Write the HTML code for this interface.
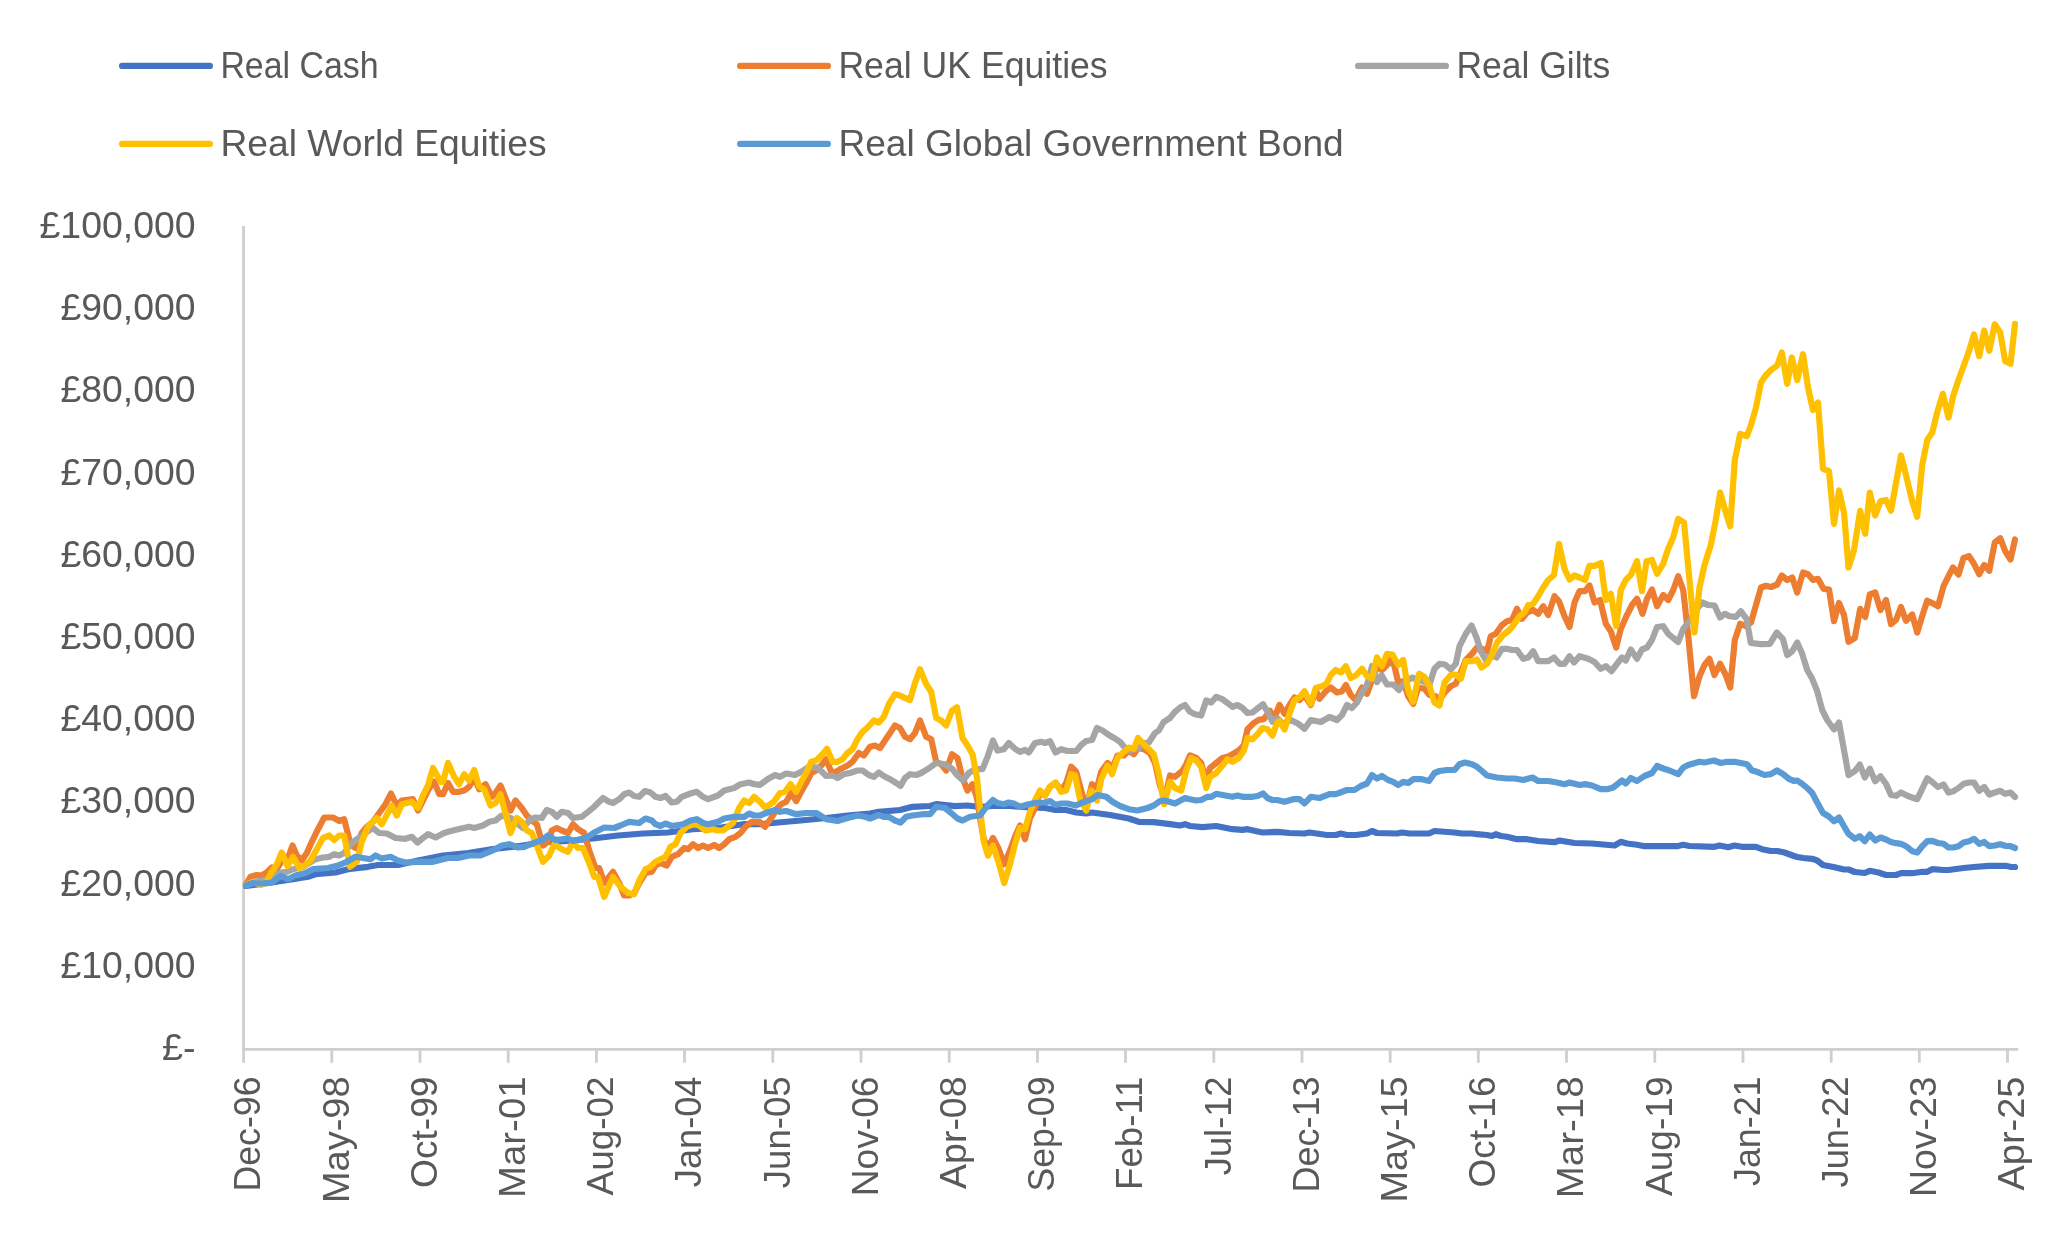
<!DOCTYPE html>
<html><head><meta charset="utf-8"><title>Chart</title>
<style>
html,body{margin:0;padding:0;background:#fff;}
body{width:2068px;height:1234px;overflow:hidden;}
svg{display:block;}
text{filter:grayscale(1);}
text{font-family:"Liberation Sans",sans-serif;fill:#595959;}
</style></head><body>
<svg width="2068" height="1234" viewBox="0 0 2068 1234">
<rect width="2068" height="1234" fill="#ffffff"/>
<line x1="122.1" y1="65.9" x2="209.9" y2="65.9" stroke="#4472C4" stroke-width="6.2" stroke-linecap="round"/>
<text x="220.4" y="77.6" font-size="36" textLength="158.3" lengthAdjust="spacingAndGlyphs">Real Cash</text>
<line x1="740.1" y1="65.9" x2="827.9" y2="65.9" stroke="#ED7D31" stroke-width="6.2" stroke-linecap="round"/>
<text x="838.4" y="77.6" font-size="36" textLength="269.3" lengthAdjust="spacingAndGlyphs">Real UK Equities</text>
<line x1="1358.1" y1="65.9" x2="1445.9" y2="65.9" stroke="#A5A5A5" stroke-width="6.2" stroke-linecap="round"/>
<text x="1456.4" y="77.6" font-size="36" textLength="153.8" lengthAdjust="spacingAndGlyphs">Real Gilts</text>
<line x1="122.1" y1="143.9" x2="209.9" y2="143.9" stroke="#FFC000" stroke-width="6.2" stroke-linecap="round"/>
<text x="220.4" y="155.6" font-size="36" textLength="326.3" lengthAdjust="spacingAndGlyphs">Real World Equities</text>
<line x1="740.1" y1="143.9" x2="827.9" y2="143.9" stroke="#5B9BD5" stroke-width="6.2" stroke-linecap="round"/>
<text x="838.4" y="155.6" font-size="36" textLength="505.3" lengthAdjust="spacingAndGlyphs">Real Global Government Bond</text>
<line x1="243.55" y1="226.0" x2="243.55" y2="1062.7" stroke="#D0CECE" stroke-width="2.8"/>
<line x1="242.15" y1="1049.45" x2="2018.2" y2="1049.45" stroke="#D0CECE" stroke-width="2.8"/>
<text transform="translate(260.4,1076.5) rotate(-90)" text-anchor="end" font-size="36" textLength="115.0" lengthAdjust="spacingAndGlyphs">Dec-96</text>
<line x1="331.8" y1="1049.5" x2="331.8" y2="1062.7" stroke="#D0CECE" stroke-width="2.8"/>
<text transform="translate(348.6,1076.5) rotate(-90)" text-anchor="end" font-size="36" textLength="126.5" lengthAdjust="spacingAndGlyphs">May-98</text>
<line x1="420.0" y1="1049.5" x2="420.0" y2="1062.7" stroke="#D0CECE" stroke-width="2.8"/>
<text transform="translate(436.8,1076.5) rotate(-90)" text-anchor="end" font-size="36" textLength="111.5" lengthAdjust="spacingAndGlyphs">Oct-99</text>
<line x1="508.2" y1="1049.5" x2="508.2" y2="1062.7" stroke="#D0CECE" stroke-width="2.8"/>
<text transform="translate(525.0,1076.5) rotate(-90)" text-anchor="end" font-size="36" textLength="121.4" lengthAdjust="spacingAndGlyphs">Mar-01</text>
<line x1="596.4" y1="1049.5" x2="596.4" y2="1062.7" stroke="#D0CECE" stroke-width="2.8"/>
<text transform="translate(613.1,1076.5) rotate(-90)" text-anchor="end" font-size="36" textLength="119.0" lengthAdjust="spacingAndGlyphs">Aug-02</text>
<line x1="684.5" y1="1049.5" x2="684.5" y2="1062.7" stroke="#D0CECE" stroke-width="2.8"/>
<text transform="translate(701.3,1076.5) rotate(-90)" text-anchor="end" font-size="36" textLength="110.7" lengthAdjust="spacingAndGlyphs">Jan-04</text>
<line x1="772.8" y1="1049.5" x2="772.8" y2="1062.7" stroke="#D0CECE" stroke-width="2.8"/>
<text transform="translate(789.5,1076.5) rotate(-90)" text-anchor="end" font-size="36" textLength="111.7" lengthAdjust="spacingAndGlyphs">Jun-05</text>
<line x1="861.0" y1="1049.5" x2="861.0" y2="1062.7" stroke="#D0CECE" stroke-width="2.8"/>
<text transform="translate(877.8,1076.5) rotate(-90)" text-anchor="end" font-size="36" textLength="119.8" lengthAdjust="spacingAndGlyphs">Nov-06</text>
<line x1="949.2" y1="1049.5" x2="949.2" y2="1062.7" stroke="#D0CECE" stroke-width="2.8"/>
<text transform="translate(966.0,1076.5) rotate(-90)" text-anchor="end" font-size="36" textLength="112.4" lengthAdjust="spacingAndGlyphs">Apr-08</text>
<line x1="1037.4" y1="1049.5" x2="1037.4" y2="1062.7" stroke="#D0CECE" stroke-width="2.8"/>
<text transform="translate(1054.2,1076.5) rotate(-90)" text-anchor="end" font-size="36" textLength="115.0" lengthAdjust="spacingAndGlyphs">Sep-09</text>
<line x1="1125.5" y1="1049.5" x2="1125.5" y2="1062.7" stroke="#D0CECE" stroke-width="2.8"/>
<text transform="translate(1142.3,1076.5) rotate(-90)" text-anchor="end" font-size="36" textLength="113.4" lengthAdjust="spacingAndGlyphs">Feb-11</text>
<line x1="1213.8" y1="1049.5" x2="1213.8" y2="1062.7" stroke="#D0CECE" stroke-width="2.8"/>
<text transform="translate(1230.5,1076.5) rotate(-90)" text-anchor="end" font-size="36" textLength="98.7" lengthAdjust="spacingAndGlyphs">Jul-12</text>
<line x1="1302.0" y1="1049.5" x2="1302.0" y2="1062.7" stroke="#D0CECE" stroke-width="2.8"/>
<text transform="translate(1318.8,1076.5) rotate(-90)" text-anchor="end" font-size="36" textLength="116.0" lengthAdjust="spacingAndGlyphs">Dec-13</text>
<line x1="1390.2" y1="1049.5" x2="1390.2" y2="1062.7" stroke="#D0CECE" stroke-width="2.8"/>
<text transform="translate(1407.0,1076.5) rotate(-90)" text-anchor="end" font-size="36" textLength="126.0" lengthAdjust="spacingAndGlyphs">May-15</text>
<line x1="1478.3" y1="1049.5" x2="1478.3" y2="1062.7" stroke="#D0CECE" stroke-width="2.8"/>
<text transform="translate(1495.1,1076.5) rotate(-90)" text-anchor="end" font-size="36" textLength="111.0" lengthAdjust="spacingAndGlyphs">Oct-16</text>
<line x1="1566.5" y1="1049.5" x2="1566.5" y2="1062.7" stroke="#D0CECE" stroke-width="2.8"/>
<text transform="translate(1583.3,1076.5) rotate(-90)" text-anchor="end" font-size="36" textLength="121.7" lengthAdjust="spacingAndGlyphs">Mar-18</text>
<line x1="1654.8" y1="1049.5" x2="1654.8" y2="1062.7" stroke="#D0CECE" stroke-width="2.8"/>
<text transform="translate(1671.5,1076.5) rotate(-90)" text-anchor="end" font-size="36" textLength="119.5" lengthAdjust="spacingAndGlyphs">Aug-19</text>
<line x1="1743.0" y1="1049.5" x2="1743.0" y2="1062.7" stroke="#D0CECE" stroke-width="2.8"/>
<text transform="translate(1759.8,1076.5) rotate(-90)" text-anchor="end" font-size="36" textLength="109.5" lengthAdjust="spacingAndGlyphs">Jan-21</text>
<line x1="1831.2" y1="1049.5" x2="1831.2" y2="1062.7" stroke="#D0CECE" stroke-width="2.8"/>
<text transform="translate(1848.0,1076.5) rotate(-90)" text-anchor="end" font-size="36" textLength="111.0" lengthAdjust="spacingAndGlyphs">Jun-22</text>
<line x1="1919.3" y1="1049.5" x2="1919.3" y2="1062.7" stroke="#D0CECE" stroke-width="2.8"/>
<text transform="translate(1936.1,1076.5) rotate(-90)" text-anchor="end" font-size="36" textLength="120.4" lengthAdjust="spacingAndGlyphs">Nov-23</text>
<line x1="2007.5" y1="1049.5" x2="2007.5" y2="1062.7" stroke="#D0CECE" stroke-width="2.8"/>
<text transform="translate(2024.3,1076.5) rotate(-90)" text-anchor="end" font-size="36" textLength="114.0" lengthAdjust="spacingAndGlyphs">Apr-25</text>
<text x="195.6" y="1060.0" text-anchor="end" font-size="37" textLength="33.6" lengthAdjust="spacingAndGlyphs">£-</text>
<text x="195.6" y="977.8" text-anchor="end" font-size="37" textLength="135.1" lengthAdjust="spacingAndGlyphs">£10,000</text>
<text x="195.6" y="895.6" text-anchor="end" font-size="37" textLength="135.1" lengthAdjust="spacingAndGlyphs">£20,000</text>
<text x="195.6" y="813.3" text-anchor="end" font-size="37" textLength="135.1" lengthAdjust="spacingAndGlyphs">£30,000</text>
<text x="195.6" y="731.1" text-anchor="end" font-size="37" textLength="135.1" lengthAdjust="spacingAndGlyphs">£40,000</text>
<text x="195.6" y="648.9" text-anchor="end" font-size="37" textLength="135.1" lengthAdjust="spacingAndGlyphs">£50,000</text>
<text x="195.6" y="566.7" text-anchor="end" font-size="37" textLength="135.1" lengthAdjust="spacingAndGlyphs">£60,000</text>
<text x="195.6" y="484.5" text-anchor="end" font-size="37" textLength="135.1" lengthAdjust="spacingAndGlyphs">£70,000</text>
<text x="195.6" y="402.2" text-anchor="end" font-size="37" textLength="135.1" lengthAdjust="spacingAndGlyphs">£80,000</text>
<text x="195.6" y="320.0" text-anchor="end" font-size="37" textLength="135.1" lengthAdjust="spacingAndGlyphs">£90,000</text>
<text x="195.6" y="237.8" text-anchor="end" font-size="37" textLength="156.1" lengthAdjust="spacingAndGlyphs">£100,000</text>
<polyline fill="none" stroke="#4472C4" stroke-width="6.2" stroke-linejoin="round" stroke-linecap="round" points="246.0,886.0 268.0,883.0 293.0,879.2 308.0,876.8 315.5,874.2 335.5,872.5 348.0,869.2 368.0,866.8 378.0,865.0 398.0,865.0 418.0,860.5 443.0,855.5 468.0,853.0 493.0,849.0 518.0,846.2 543.0,842.2 568.0,841.0 593.0,838.5 618.0,835.5 643.0,833.5 668.0,832.5 693.0,829.2 718.0,828.0 743.0,824.2 760.0,824.2 772.5,823.0 806.2,820.0 826.2,818.0 847.5,815.5 870.0,813.5 878.8,811.8 900.0,810.0 912.5,806.8 930.0,806.0 936.2,804.2 955.0,806.2 967.5,805.5 980.0,806.8 993.0,806.0 1010.0,806.0 1030.0,807.5 1045.0,808.0 1055.5,810.0 1066.2,810.0 1076.2,812.5 1086.2,813.5 1092.0,812.5 1110.0,815.0 1128.8,818.5 1138.8,821.8 1153.8,822.2 1170.0,824.2 1180.0,825.5 1185.0,824.2 1190.0,826.0 1202.5,827.2 1216.2,826.0 1232.5,829.2 1242.5,829.8 1247.5,829.2 1262.5,832.5 1277.0,831.8 1289.5,833.0 1304.5,833.5 1309.5,832.5 1327.0,835.0 1335.8,835.0 1340.8,833.5 1347.0,835.0 1355.8,835.0 1367.0,833.5 1372.0,831.0 1377.0,833.0 1397.0,833.5 1402.0,832.5 1409.5,833.5 1429.0,833.5 1434.5,831.0 1454.5,832.5 1462.0,833.5 1472.0,833.5 1477.0,834.2 1487.0,835.0 1492.0,836.0 1495.8,834.2 1500.8,836.0 1507.0,836.8 1517.0,839.2 1527.0,839.2 1538.2,841.0 1554.5,842.2 1559.5,840.5 1574.5,843.0 1592.0,843.5 1614.5,845.5 1620.8,841.8 1627.0,843.5 1637.0,844.8 1644.5,846.2 1677.0,846.2 1683.2,844.8 1689.5,846.0 1714.5,846.8 1719.5,845.5 1728.2,847.2 1734.5,845.5 1742.0,846.8 1755.8,846.8 1762.0,849.2 1770.8,851.0 1777.0,851.0 1784.5,852.5 1794.0,856.0 1797.2,857.0 1803.5,858.0 1812.2,858.8 1817.2,860.5 1823.0,865.0 1833.5,867.0 1844.0,869.5 1848.5,869.5 1854.8,872.0 1864.8,873.0 1869.8,870.8 1878.5,872.5 1886.0,875.0 1896.0,875.0 1901.0,873.2 1912.2,873.2 1922.2,871.8 1927.2,871.8 1932.2,869.2 1943.5,870.0 1948.5,870.0 1963.5,868.0 1974.0,867.0 1989.2,865.8 2005.2,865.8 2010.5,866.8 2015.0,867.0"/>
<polyline fill="none" stroke="#ED7D31" stroke-width="6.2" stroke-linejoin="round" stroke-linecap="round" points="246.0,884.2 250.5,876.8 256.8,875.0 261.8,875.5 266.8,872.5 271.8,867.5 276.8,869.2 283.0,859.2 288.0,858.0 292.5,845.5 296.8,855.5 301.8,860.5 306.8,853.0 311.8,841.8 318.0,829.2 324.2,817.5 333.0,817.5 339.2,821.0 344.2,819.2 350.5,844.2 355.5,848.0 361.8,833.0 366.8,826.8 373.0,821.8 379.2,813.0 385.5,804.2 391.0,793.5 396.8,805.5 401.8,800.5 413.0,799.2 418.0,810.5 423.0,800.5 429.2,788.0 434.2,781.8 439.2,794.2 443.0,794.2 448.0,783.0 453.0,791.8 459.2,791.8 464.2,790.5 469.2,786.8 474.2,778.0 479.2,789.2 485.5,784.2 491.8,796.8 495.5,793.0 500.5,785.5 510.5,810.5 515.5,800.5 521.8,808.0 526.8,815.5 531.8,820.5 536.8,824.2 543.0,845.5 548.0,841.8 551.8,830.5 556.8,828.0 561.8,830.5 568.0,833.0 573.0,824.2 578.0,829.2 584.2,833.0 589.2,850.5 595.5,868.0 599.2,868.0 604.2,883.0 613.0,871.8 619.2,883.0 624.2,895.5 629.2,895.5 634.2,893.0 639.2,883.0 645.5,873.0 651.8,871.8 655.5,865.5 660.5,863.0 666.8,865.5 671.8,856.8 678.0,854.2 684.2,848.0 688.0,849.2 693.0,844.2 698.0,848.0 703.0,845.5 708.0,848.0 714.2,845.0 719.2,848.0 724.2,844.2 729.2,839.2 735.5,836.8 740.5,833.0 745.5,826.8 751.8,821.8 760.0,822.2 765.0,826.8 771.2,818.0 777.5,808.0 781.2,804.2 786.2,801.8 791.2,793.0 796.2,801.0 801.2,791.8 806.2,783.0 811.2,773.0 816.2,770.5 821.2,765.5 826.2,759.2 831.2,771.8 836.2,771.8 840.0,769.2 847.5,765.5 852.5,761.8 858.8,753.0 863.8,755.5 870.0,746.8 875.0,745.5 880.0,748.0 885.0,740.5 890.0,733.0 895.0,725.5 900.0,728.0 905.0,736.8 910.0,739.2 915.0,733.0 920.0,720.5 926.2,736.8 931.2,739.2 936.2,761.8 941.2,764.2 946.2,770.5 952.0,754.2 957.5,758.0 962.5,778.0 967.5,790.5 972.5,784.2 977.0,798.0 980.0,818.0 983.8,839.2 988.0,848.0 993.0,838.0 998.8,849.2 1004.2,864.2 1010.0,850.5 1015.0,836.8 1020.0,825.5 1025.0,839.2 1030.0,818.0 1035.0,808.0 1040.0,791.8 1045.0,795.5 1050.0,786.8 1055.5,783.0 1061.2,790.5 1066.2,783.0 1071.2,766.8 1076.2,771.8 1081.2,790.5 1086.2,808.0 1092.0,784.2 1097.0,788.0 1101.2,771.8 1107.5,763.0 1112.5,768.0 1117.5,755.5 1123.8,755.5 1128.8,750.5 1133.8,754.2 1138.0,748.0 1143.8,749.2 1150.0,753.0 1155.0,763.0 1160.0,785.5 1165.0,798.0 1170.0,775.5 1175.0,776.8 1182.5,770.5 1186.2,764.2 1190.0,755.5 1196.2,758.0 1201.2,763.0 1206.2,780.5 1210.0,768.0 1216.2,763.0 1222.5,758.0 1227.5,756.8 1232.5,754.2 1238.8,750.5 1243.8,745.5 1247.5,729.2 1253.8,723.0 1258.8,719.8 1263.8,719.2 1270.0,710.8 1273.8,719.5 1279.5,705.0 1284.5,713.8 1289.5,705.0 1294.5,697.5 1299.5,700.0 1304.5,695.0 1310.8,705.0 1315.8,690.5 1319.5,698.8 1325.8,691.2 1330.8,687.5 1337.0,692.5 1342.0,691.2 1345.8,685.0 1350.8,695.0 1355.8,700.0 1362.0,687.5 1367.0,693.8 1372.0,680.0 1377.0,666.2 1382.0,670.0 1387.0,665.0 1390.8,660.0 1394.5,666.2 1398.2,682.5 1403.2,681.2 1408.2,696.2 1413.2,703.8 1418.2,687.5 1424.5,688.8 1429.5,695.0 1435.8,696.2 1439.5,700.0 1444.5,692.5 1450.8,686.2 1455.8,683.8 1460.8,672.5 1465.8,660.0 1472.0,653.8 1477.0,647.5 1482.0,648.8 1487.0,651.2 1490.8,636.2 1495.8,633.8 1502.0,625.0 1507.0,621.2 1512.0,620.0 1517.0,608.8 1522.0,618.8 1527.0,612.5 1533.2,610.0 1538.2,613.8 1543.2,606.2 1548.2,615.0 1554.5,596.2 1559.0,601.2 1564.5,616.2 1569.5,627.0 1574.5,602.5 1579.5,591.2 1585.0,591.2 1589.5,585.5 1594.5,602.5 1600.0,600.0 1605.8,623.8 1610.8,631.2 1616.2,647.5 1620.8,628.8 1625.8,617.5 1632.0,605.0 1637.0,598.8 1642.5,613.8 1647.0,598.8 1652.0,589.5 1657.0,606.2 1663.2,595.0 1668.2,600.0 1673.2,590.0 1678.2,576.2 1683.2,590.0 1688.2,635.0 1694.0,696.2 1699.5,676.2 1704.5,665.0 1709.5,658.8 1714.5,675.0 1720.0,663.8 1725.8,675.0 1730.2,687.5 1734.8,640.0 1740.2,623.8 1746.0,626.2 1751.0,622.5 1756.0,605.0 1761.0,587.5 1766.0,585.8 1771.0,587.0 1777.2,584.5 1781.8,575.5 1787.2,580.0 1792.2,577.5 1797.2,592.5 1803.0,572.5 1808.0,574.2 1813.0,580.0 1818.0,578.8 1823.5,588.8 1829.0,589.5 1834.0,621.2 1839.0,603.0 1844.0,615.0 1848.5,641.8 1854.8,638.0 1860.2,608.8 1865.2,617.0 1869.8,594.5 1875.2,592.5 1880.5,610.0 1886.0,600.0 1891.0,624.2 1896.0,620.0 1901.0,607.0 1906.0,620.8 1912.2,614.5 1917.2,632.5 1922.2,616.2 1927.2,600.8 1932.2,603.0 1938.0,606.2 1943.5,586.2 1948.5,576.2 1953.0,567.5 1958.5,574.5 1963.5,558.0 1969.0,556.2 1974.0,563.8 1979.2,574.2 1984.2,565.0 1989.2,570.8 1994.8,542.5 2000.2,538.2 2005.2,551.2 2010.5,559.5 2015.0,539.5"/>
<polyline fill="none" stroke="#A5A5A5" stroke-width="6.2" stroke-linejoin="round" stroke-linecap="round" points="246.0,885.0 255.5,881.8 268.0,879.2 273.0,875.5 278.0,873.0 286.8,871.8 293.0,869.2 303.0,866.8 315.5,859.2 323.0,857.5 329.2,856.8 334.2,854.2 339.2,855.5 344.2,853.0 350.5,844.2 356.8,839.2 365.5,833.0 373.0,828.0 379.2,833.0 386.8,833.5 395.5,838.0 405.5,838.8 411.8,836.8 417.5,842.5 423.0,838.0 428.0,834.2 435.5,837.5 443.0,833.5 448.0,831.8 458.0,829.2 469.2,826.8 474.2,828.0 483.0,825.5 489.2,821.8 495.5,820.5 501.8,815.5 510.5,818.0 516.8,823.0 523.0,828.0 530.5,819.2 535.5,817.5 541.8,818.0 546.8,810.0 551.8,811.8 556.8,816.8 561.8,811.8 568.0,813.0 573.0,818.0 581.8,816.8 588.0,811.8 594.2,806.8 603.0,798.0 609.2,801.8 613.0,803.0 619.2,799.2 624.2,794.2 629.2,792.5 634.2,796.0 639.2,796.8 645.0,791.0 650.5,792.5 655.5,796.8 660.5,798.0 665.5,796.0 671.8,802.5 676.8,801.8 681.8,796.8 690.5,793.5 696.8,791.8 703.0,796.8 708.0,799.2 718.0,795.5 724.2,790.5 734.2,788.0 740.5,784.2 749.2,782.5 754.2,784.2 760.0,784.8 767.5,779.2 775.0,775.0 780.0,776.8 786.2,773.5 795.0,775.0 801.2,771.8 808.8,766.8 817.5,767.5 826.2,776.0 832.5,775.5 837.5,778.0 843.8,774.2 850.0,773.0 857.5,770.5 862.5,770.5 868.8,775.0 873.8,776.8 878.8,772.5 883.8,776.0 890.0,779.2 896.2,783.0 900.5,786.0 905.0,778.0 910.0,774.2 916.2,775.0 921.2,773.0 927.5,769.2 936.2,763.0 945.0,764.2 952.5,769.2 957.5,775.5 963.0,780.5 968.8,773.0 975.0,769.2 982.5,769.2 987.5,756.8 993.0,740.5 997.5,750.5 1003.8,749.2 1008.8,743.0 1015.0,748.8 1020.0,751.8 1025.0,749.8 1028.8,752.5 1035.0,743.0 1041.2,741.8 1045.0,743.0 1050.0,741.2 1055.5,752.5 1061.2,749.2 1067.5,751.0 1076.2,751.0 1081.2,745.0 1086.2,741.0 1092.0,740.0 1097.0,728.0 1102.5,730.5 1108.8,735.0 1115.0,738.5 1120.0,741.8 1127.5,751.0 1138.8,748.0 1143.8,743.0 1148.8,742.5 1155.0,733.0 1158.8,730.5 1163.8,721.8 1170.0,718.0 1175.0,711.8 1180.0,707.5 1185.0,705.0 1190.0,711.8 1195.0,714.2 1201.2,715.5 1206.2,700.5 1211.2,702.5 1216.2,696.8 1222.5,699.2 1232.5,706.8 1237.5,705.0 1242.5,708.0 1247.5,713.0 1252.5,712.5 1257.5,708.5 1263.0,704.2 1267.5,711.8 1272.5,721.8 1277.0,718.0 1283.2,723.8 1290.8,720.0 1298.2,723.8 1304.5,728.8 1310.8,720.0 1320.8,722.0 1329.5,717.0 1337.0,720.0 1342.0,715.0 1347.0,705.0 1352.0,708.0 1357.0,702.5 1362.0,692.5 1367.0,685.0 1372.0,666.2 1377.0,682.0 1381.5,675.0 1387.0,684.5 1393.2,684.5 1399.0,690.0 1404.5,682.5 1412.0,677.5 1418.2,680.0 1424.5,682.0 1429.5,684.5 1434.5,668.8 1439.5,663.8 1445.0,664.5 1450.8,669.5 1455.8,663.8 1459.5,646.2 1465.8,633.8 1471.5,625.5 1476.5,637.5 1480.8,651.2 1485.8,660.0 1490.8,655.0 1496.5,657.5 1502.0,648.8 1507.0,648.8 1512.0,650.0 1517.0,650.0 1523.2,658.8 1528.2,657.5 1533.2,651.2 1538.2,661.2 1548.2,661.2 1554.0,657.5 1559.5,663.8 1564.5,663.8 1569.5,656.2 1574.0,662.5 1579.5,656.2 1588.2,658.8 1594.5,662.0 1600.8,668.8 1605.8,666.2 1611.5,671.2 1617.0,663.8 1622.0,657.5 1625.8,660.5 1630.8,649.5 1637.0,658.8 1642.0,649.5 1647.0,647.5 1652.0,640.0 1657.0,627.0 1663.2,626.2 1668.2,633.8 1678.2,642.0 1683.2,628.8 1689.5,621.2 1694.5,612.5 1702.0,602.5 1708.2,605.0 1714.5,605.5 1720.0,617.5 1725.0,613.8 1729.5,616.2 1735.8,617.0 1740.8,611.2 1746.5,618.8 1750.8,643.0 1761.0,644.2 1769.8,643.8 1776.8,632.5 1782.8,638.8 1787.2,655.0 1792.2,651.2 1797.2,642.5 1802.2,653.8 1807.2,670.0 1812.2,678.8 1817.2,691.2 1822.2,710.0 1827.2,720.0 1834.0,729.5 1839.0,722.5 1844.0,750.0 1848.5,775.0 1854.8,771.2 1859.8,764.5 1864.8,777.5 1869.8,768.8 1875.2,781.2 1880.5,776.2 1886.0,783.8 1891.0,795.0 1896.0,795.8 1901.0,792.5 1908.5,796.2 1917.2,799.2 1922.2,788.8 1927.2,778.2 1932.2,782.0 1938.0,787.0 1943.5,784.5 1948.5,792.5 1953.5,791.2 1958.5,788.0 1963.5,783.8 1969.0,782.5 1974.0,782.5 1979.2,790.8 1984.2,787.0 1989.2,794.5 1994.8,792.5 2000.2,790.8 2005.2,793.8 2010.5,792.5 2015.0,797.0"/>
<polyline fill="none" stroke="#FFC000" stroke-width="6.2" stroke-linejoin="round" stroke-linecap="round" points="246.0,885.0 253.0,881.8 261.0,885.0 266.8,881.8 271.0,873.0 276.8,864.2 281.8,852.5 287.5,866.0 293.0,856.8 299.2,868.0 305.5,865.0 310.5,860.5 316.8,849.2 323.0,838.0 329.2,835.5 334.2,840.0 339.2,835.5 344.2,835.5 350.0,866.8 356.8,861.8 361.8,841.8 368.0,826.8 376.8,818.0 381.8,824.2 391.8,805.5 396.8,815.5 401.8,804.2 411.8,801.8 418.0,808.0 423.0,795.5 428.0,785.5 433.0,768.0 440.5,781.8 443.0,781.8 448.0,763.0 454.2,776.8 459.2,784.2 464.2,774.2 469.2,780.5 474.2,770.0 479.2,786.8 484.2,789.2 490.5,805.5 495.5,803.0 500.5,794.2 510.5,833.0 516.8,818.0 521.8,821.8 526.8,830.5 531.8,833.0 536.8,845.5 543.0,861.8 549.2,855.5 554.2,844.2 561.8,849.2 568.0,851.8 573.0,841.8 578.0,848.0 583.0,848.0 589.2,863.0 594.2,876.8 598.0,876.8 604.2,896.8 613.0,876.8 620.5,886.8 628.0,893.0 634.2,894.2 639.2,880.5 645.5,869.2 650.5,866.8 655.5,861.8 665.5,856.8 670.5,846.8 675.5,844.2 680.5,833.0 686.8,826.8 694.2,824.2 699.2,825.5 705.5,830.5 713.0,829.2 718.0,830.5 723.0,830.5 733.0,823.0 739.2,808.0 744.2,800.5 749.2,803.0 754.2,796.8 760.0,801.8 765.0,807.5 773.8,801.8 780.0,793.0 785.0,791.8 790.5,784.2 796.2,791.8 801.2,781.8 806.2,773.0 811.2,761.8 816.2,760.5 822.5,754.2 827.0,748.8 832.5,761.8 837.5,761.8 842.5,759.2 847.5,753.0 852.5,749.2 857.5,739.2 862.5,731.8 867.5,727.5 873.8,720.5 878.8,722.5 883.8,716.8 888.8,704.2 895.0,694.2 900.0,695.5 905.0,698.0 910.0,700.0 915.0,683.0 920.0,669.2 926.2,684.2 931.2,691.8 936.2,718.0 941.2,720.5 946.2,725.5 952.0,710.5 957.0,707.2 962.5,738.0 967.5,745.5 972.5,754.2 977.0,778.0 980.0,808.0 983.8,841.8 988.0,855.5 993.0,845.5 998.8,863.0 1004.2,883.0 1010.0,864.2 1015.0,844.2 1020.0,828.0 1025.0,829.2 1030.0,811.8 1035.0,800.5 1040.0,790.5 1045.0,795.5 1050.0,786.8 1055.5,782.5 1061.2,791.8 1066.2,790.5 1071.2,774.2 1075.0,775.5 1080.0,799.2 1086.2,810.5 1091.2,790.5 1097.0,800.5 1101.2,779.2 1107.5,765.5 1112.0,774.2 1117.5,758.0 1122.5,753.0 1128.8,747.5 1133.8,748.8 1138.0,738.0 1143.8,744.2 1153.8,754.2 1158.8,774.2 1164.2,804.2 1170.0,781.8 1175.0,788.0 1181.2,790.5 1186.2,770.5 1191.2,758.0 1196.2,760.5 1201.2,766.8 1206.2,788.0 1210.0,776.8 1216.2,773.0 1222.5,765.5 1227.5,759.2 1232.5,761.8 1238.8,758.0 1243.8,750.5 1247.5,738.0 1252.5,739.2 1257.5,734.2 1262.5,728.0 1267.5,729.2 1272.5,735.5 1277.0,723.0 1279.5,721.2 1284.5,729.5 1289.5,713.8 1294.5,700.0 1299.5,697.5 1304.5,691.2 1310.8,703.8 1315.8,688.0 1322.0,686.2 1326.5,683.8 1330.8,675.0 1335.8,670.0 1340.8,672.5 1345.8,666.2 1350.8,678.0 1355.8,675.5 1362.0,668.8 1367.0,676.2 1372.0,678.8 1377.0,657.5 1382.0,666.2 1387.0,653.8 1392.5,654.5 1398.2,665.0 1403.2,660.0 1408.2,690.0 1413.2,702.0 1419.0,673.8 1424.5,677.0 1429.5,686.2 1434.5,702.5 1439.5,705.5 1444.5,682.5 1450.8,675.0 1455.8,674.5 1460.8,678.8 1465.8,661.2 1472.0,661.2 1477.0,659.5 1481.5,667.5 1487.0,663.8 1492.0,655.0 1497.0,642.5 1503.2,635.0 1509.5,630.0 1514.5,623.8 1519.5,616.2 1524.5,612.5 1528.2,605.0 1533.2,603.8 1538.2,596.2 1543.2,587.5 1548.2,580.0 1554.0,575.0 1559.0,543.8 1564.5,568.8 1569.5,579.5 1574.5,575.5 1579.5,577.5 1585.0,580.0 1589.5,565.8 1594.5,565.8 1600.8,563.0 1605.8,600.0 1610.8,593.8 1616.2,626.2 1620.8,590.0 1625.8,580.0 1630.8,575.0 1637.0,561.2 1642.0,591.2 1646.5,561.2 1652.0,560.0 1657.0,573.8 1663.2,563.8 1668.2,548.8 1673.2,537.5 1678.2,518.8 1684.0,522.5 1689.5,580.0 1694.5,632.5 1699.5,587.5 1704.5,565.0 1710.8,545.0 1715.8,520.0 1720.2,492.5 1725.8,512.5 1730.2,526.2 1734.8,460.0 1740.2,433.8 1746.8,436.2 1751.0,425.0 1756.0,407.5 1761.0,382.5 1766.0,375.0 1771.0,370.0 1777.2,365.5 1781.8,352.5 1787.2,383.8 1791.8,357.5 1797.2,380.0 1803.0,354.2 1808.0,387.5 1813.0,410.0 1818.0,402.5 1823.0,468.8 1829.0,471.2 1834.0,523.8 1839.0,490.5 1844.0,512.5 1848.5,567.5 1854.0,550.0 1860.2,510.8 1865.2,533.8 1869.8,492.5 1875.2,515.5 1880.5,501.2 1886.0,500.0 1891.0,510.8 1901.0,455.5 1906.0,475.0 1912.2,501.2 1917.2,516.8 1922.2,465.0 1927.2,440.0 1932.2,432.5 1937.2,412.5 1942.8,393.8 1948.5,417.5 1953.5,395.0 1958.5,380.0 1963.5,366.2 1969.0,351.2 1974.0,334.5 1979.2,356.2 1984.2,330.5 1989.2,350.8 1994.8,324.2 2000.2,332.5 2005.2,361.2 2010.5,363.8 2015.0,323.8"/>
<polyline fill="none" stroke="#5B9BD5" stroke-width="6.2" stroke-linejoin="round" stroke-linecap="round" points="246.0,885.5 253.0,883.0 261.8,883.5 271.8,882.5 280.5,876.0 288.0,879.2 295.5,875.5 305.5,873.0 313.0,869.2 328.0,868.0 338.0,865.5 346.8,861.8 355.5,856.8 363.0,858.0 370.5,859.2 375.5,855.5 381.8,858.5 390.5,856.8 398.0,860.5 405.5,862.5 418.0,861.8 433.0,861.8 443.0,859.2 448.0,858.0 458.0,858.0 469.2,855.5 480.5,855.5 489.2,851.8 495.5,849.2 501.8,845.5 509.2,844.2 518.0,847.5 524.2,846.8 530.5,844.2 536.8,841.8 541.8,840.5 548.0,835.5 555.5,840.0 568.0,838.5 573.0,841.0 583.0,838.5 588.0,836.8 594.2,832.5 604.2,827.5 614.2,828.0 620.5,825.5 629.2,821.8 639.2,823.0 645.5,818.5 651.8,820.5 655.5,824.2 660.5,826.0 665.5,823.5 671.8,826.0 683.0,824.2 690.5,820.5 696.8,819.2 703.0,823.0 708.0,824.2 718.0,821.8 724.2,818.5 734.2,816.8 744.2,816.8 749.2,813.5 754.2,815.5 760.0,815.5 767.5,812.5 775.0,810.0 780.0,811.8 786.2,811.0 796.2,814.2 806.2,813.0 816.2,813.0 826.2,819.2 837.5,821.0 847.5,818.0 857.5,815.5 865.0,816.8 870.0,818.5 878.8,815.0 883.8,816.8 888.8,816.8 895.0,820.5 900.5,822.5 906.2,816.8 912.5,815.5 922.5,814.2 930.0,814.2 936.2,806.8 945.0,808.0 951.2,813.0 957.5,818.5 962.5,820.5 970.0,816.8 980.0,815.5 987.5,805.5 993.0,800.0 997.5,803.0 1003.8,804.2 1008.8,802.5 1013.8,803.5 1020.0,806.8 1028.8,804.2 1035.0,803.0 1045.0,802.5 1050.0,801.0 1055.5,805.0 1061.2,803.5 1067.5,803.5 1076.2,805.5 1081.2,803.0 1092.0,799.2 1097.5,795.0 1106.2,796.8 1112.5,801.8 1120.0,806.0 1128.8,809.2 1137.5,810.5 1147.5,808.0 1153.8,805.5 1160.0,801.0 1165.0,800.5 1175.0,803.5 1185.0,798.0 1190.0,799.2 1196.2,800.5 1201.2,800.0 1207.5,796.8 1211.2,796.8 1216.2,793.8 1222.5,795.0 1232.5,796.8 1237.5,795.5 1242.5,796.8 1252.5,796.8 1257.5,796.0 1263.0,793.5 1267.5,798.0 1272.5,800.0 1277.0,800.0 1284.5,801.8 1293.2,799.2 1299.5,799.2 1304.5,803.5 1310.8,796.8 1319.5,798.0 1329.5,794.2 1335.8,794.2 1347.0,790.0 1354.5,790.0 1360.8,786.0 1367.0,783.5 1372.0,775.0 1377.0,778.5 1382.0,776.0 1388.2,780.0 1393.2,781.8 1398.2,785.0 1403.2,781.8 1408.2,783.0 1413.2,779.2 1422.0,779.2 1429.0,781.0 1434.5,773.0 1439.5,771.0 1447.0,770.0 1454.5,770.0 1459.5,764.2 1465.0,762.5 1472.0,764.2 1477.0,766.8 1482.0,771.0 1487.0,775.5 1497.0,777.5 1507.0,778.5 1514.5,778.5 1523.2,780.0 1532.5,777.5 1538.2,781.0 1548.2,781.0 1557.0,782.5 1564.5,784.2 1569.5,782.5 1579.5,785.0 1585.8,784.2 1592.0,785.5 1600.8,789.2 1607.0,789.2 1613.2,787.5 1622.0,780.5 1625.8,783.5 1630.8,778.0 1637.0,781.0 1644.5,776.0 1652.0,773.0 1657.0,766.0 1663.2,768.5 1669.5,770.5 1678.2,774.2 1683.2,767.5 1688.2,765.0 1699.5,761.8 1704.5,762.5 1714.0,760.5 1720.8,763.0 1727.0,761.8 1734.5,761.8 1747.0,764.2 1752.0,770.5 1757.0,771.8 1764.5,775.0 1770.8,774.2 1777.0,770.5 1783.2,774.2 1789.5,779.2 1794.0,781.0 1797.2,780.5 1802.2,783.8 1807.2,788.0 1812.2,793.0 1817.2,802.5 1823.0,813.0 1828.5,816.2 1834.0,821.2 1839.0,817.5 1844.0,826.2 1848.5,833.8 1854.8,838.8 1859.8,836.2 1864.8,841.2 1869.8,834.5 1875.2,840.5 1880.5,837.5 1886.0,839.5 1891.0,842.0 1896.0,843.2 1901.0,843.8 1906.0,846.2 1912.2,851.2 1917.2,852.5 1922.2,846.2 1927.2,841.2 1932.2,840.8 1938.0,843.0 1943.5,843.8 1948.5,847.5 1953.5,847.5 1958.5,846.2 1963.5,842.5 1969.0,841.2 1974.0,838.8 1979.2,843.8 1984.2,842.0 1989.2,846.2 1994.8,845.5 2000.2,844.2 2005.2,845.8 2010.5,846.2 2015.0,848.0"/>
</svg>
</body></html>
